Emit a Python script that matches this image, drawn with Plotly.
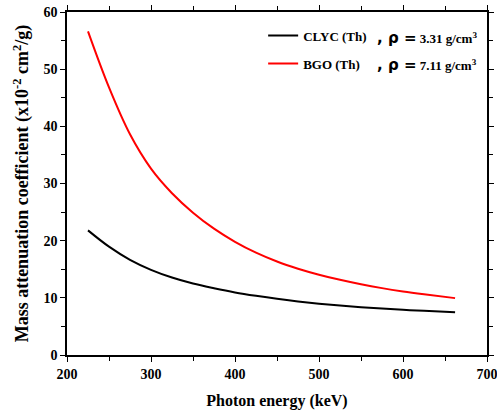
import plotly.graph_objects as go

energy_kev = [225, 250, 275, 300, 325, 350, 375, 400, 425, 450, 475, 500, 525, 550, 575, 600, 625, 662]
clyc_mu = [21.8, 18.95, 16.65, 14.9, 13.55, 12.5, 11.68, 10.95, 10.35, 9.82, 9.37, 8.98, 8.65, 8.37, 8.12, 7.9, 7.72, 7.48]
bgo_mu = [56.6, 46.8, 38.6, 32.6, 28.3, 24.9, 22.1, 19.8, 17.9, 16.35, 15.1, 14.05, 13.15, 12.37, 11.7, 11.12, 10.62, 9.95]
series_names = ["CLYC (Th)", "BGO (Th)"]
density_values = ["3.31", "7.11"]
x_ticks = [200, 300, 400, 500, 600, 700]
y_ticks = [0, 10, 20, 30, 40, 50, 60]

font_fam = "Liberation Serif, Times New Roman, serif"

fig = go.Figure()
fig.add_trace(go.Scatter(x=energy_kev, y=clyc_mu, mode="lines", name="<b>" + series_names[0] + "</b>",
                         line=dict(color="black", width=2, shape="spline", smoothing=1.0),
                         legendgroup="a"))
fig.add_trace(go.Scatter(x=energy_kev, y=bgo_mu, mode="lines", name="<b>" + series_names[1] + "</b>",
                         line=dict(color="#ff0000", width=2, shape="spline", smoothing=1.0),
                         legendgroup="b"))

axis_common = dict(
    showline=True, linecolor="black", linewidth=1.5, mirror="allticks",
    ticks="outside", ticklen=5, tickwidth=1.3, tickcolor="black",
    showgrid=False, zeroline=False, automargin=False,
    ticklabeloverflow="allow",
    tickfont=dict(family=font_fam, size=14, color="black", weight="bold"),
)

fig.update_xaxes(range=[200, 700], tickvals=x_ticks,
                 minor=dict(ticks="outside", dtick=50, ticklen=4, tickwidth=1.2, tickcolor="black"),
                 title=dict(text="<b>Photon energy (keV)</b>", font=dict(family=font_fam, size=16, color="black"), standoff=14),
                 **axis_common)
fig.update_yaxes(range=[0, 60], tickvals=y_ticks,
                 minor=dict(ticks="outside", dtick=5, ticklen=4, tickwidth=1.2, tickcolor="black"),
                 title=dict(text="<b>Mass attenuation coefficient (x10<sup>-2</sup> cm<sup>2</sup>/g)</b>",
                            font=dict(family=font_fam, size=18, color="black"), standoff=10),
                 **axis_common)

for i, dv in enumerate(density_values):
    txt = ("<b><span style='font-family:DejaVu Sans, Arial, sans-serif; font-size:15px'>, ρ =</span> "
           + dv + " g/cm<sup>3</sup></b>")
    fig.add_annotation(xref="paper", yref="paper", x=0.733, y=[0.924, 0.845][i],
                       text=txt, showarrow=False, xanchor="left", yanchor="middle",
                       font=dict(family=font_fam, size=13, color="black"))

fig.update_layout(
    width=497, height=414,
    margin=dict(l=67, r=10, t=12, b=59, autoexpand=False),
    paper_bgcolor="white", plot_bgcolor="white",
    showlegend=True,
    legend=dict(x=0.467, y=0.975, xanchor="left", yanchor="top", bgcolor="rgba(0,0,0,0)",
                font=dict(family=font_fam, size=13, color="black"), tracegroupgap=8,
                itemwidth=30),
)

fig.write_html("out.html", config={"displayModeBar": False},
               post_script="document.body.style.margin='0';document.body.style.overflow='hidden';")
